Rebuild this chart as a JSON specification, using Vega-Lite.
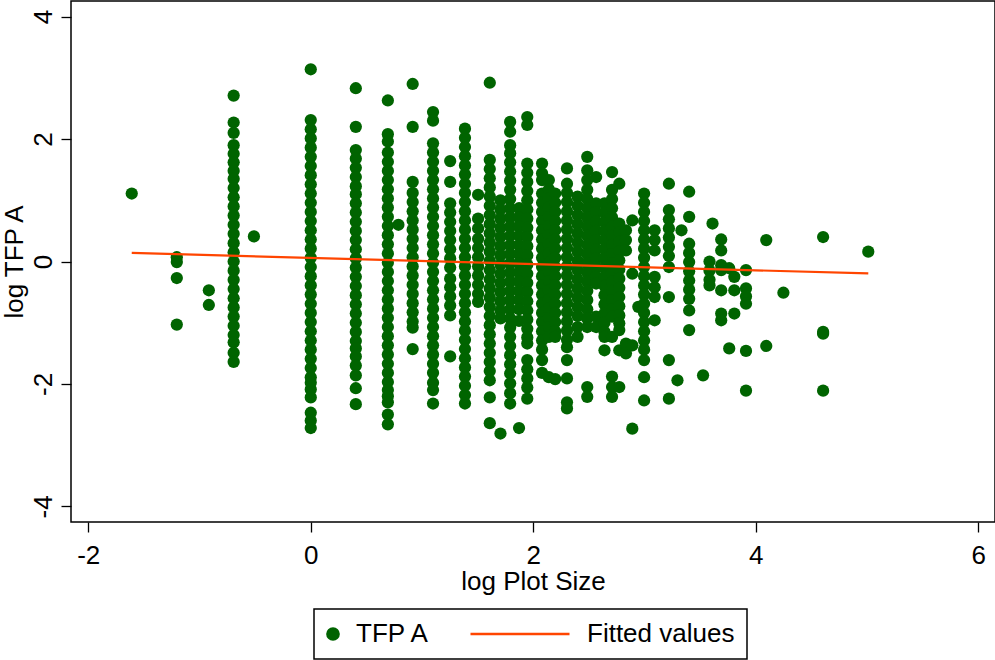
{
"$schema": "https://vega.github.io/schema/vega-lite/v6.json",
"width": 924, "height": 521,
"autosize": {"type": "none"},
"padding": {"left": 71, "top": 1, "right": 0, "bottom": 138},
"background": "white",
"config": {
  "font": "Liberation Sans",
  "view": {"stroke": "#000", "strokeWidth": 1.5},
  "axis": {"grid": false, "domain": false, "tickColor": "#000", "tickWidth": 1.3, "tickSize": 10, "labelFontSize": 26, "titleFontSize": 26, "labelColor": "#000", "titleColor": "#000", "titleFontWeight": "normal", "labelFont": "Liberation Sans", "titleFont": "Liberation Sans", "labelFlush": false, "labelOverlap": false, "labelExpr": "'' + datum.value"}
},
"datasets": {
"pts": [
{"x":-1.609,"y":1.11},
{"x":-1.204,"y":0.07},{"x":-1.204,"y":-0.01},{"x":-1.204,"y":-0.27},{"x":-1.204,"y":-1.03},
{"x":-0.916,"y":-0.47},{"x":-0.916,"y":-0.71},
{"x":-0.693,"y":2.71},{"x":-0.693,"y":2.27},{"x":-0.693,"y":2.1},{"x":-0.693,"y":1.9},{"x":-0.693,"y":1.76},{"x":-0.693,"y":1.62},{"x":-0.693,"y":1.48},{"x":-0.693,"y":1.35},{"x":-0.693,"y":1.2},{"x":-0.693,"y":1.05},{"x":-0.693,"y":0.9},{"x":-0.693,"y":0.75},{"x":-0.693,"y":0.6},{"x":-0.693,"y":0.45},{"x":-0.693,"y":0.3},{"x":-0.693,"y":0.15},{"x":-0.693,"y":0},{"x":-0.693,"y":-0.15},{"x":-0.693,"y":-0.3},{"x":-0.693,"y":-0.45},{"x":-0.693,"y":-0.6},{"x":-0.693,"y":-0.75},{"x":-0.693,"y":-0.9},{"x":-0.693,"y":-1.05},{"x":-0.693,"y":-1.2},{"x":-0.693,"y":-1.32},{"x":-0.693,"y":-1.49},{"x":-0.693,"y":-1.64},
{"x":-0.511,"y":0.41},
{"x":0,"y":3.14},{"x":0,"y":2.31},{"x":0,"y":2.16},{"x":0,"y":2.01},{"x":0,"y":1.86},{"x":0,"y":1.71},{"x":0,"y":1.56},{"x":0,"y":1.41},{"x":0,"y":1.26},{"x":0,"y":1.11},{"x":0,"y":0.96},{"x":0,"y":0.81},{"x":0,"y":0.66},{"x":0,"y":0.51},{"x":0,"y":0.36},{"x":0,"y":0.21},{"x":0,"y":0.06},{"x":0,"y":-0.09},{"x":0,"y":-0.24},{"x":0,"y":-0.39},{"x":0,"y":-0.54},{"x":0,"y":-0.69},{"x":0,"y":-0.84},{"x":0,"y":-0.99},{"x":0,"y":-1.14},{"x":0,"y":-1.29},{"x":0,"y":-1.44},{"x":0,"y":-1.59},{"x":0,"y":-1.74},{"x":0,"y":-1.89},{"x":0,"y":-1.98},{"x":0,"y":-2.09},{"x":0,"y":-2.22},{"x":0,"y":-2.47},{"x":0,"y":-2.6},{"x":0,"y":-2.72},
{"x":0.405,"y":2.83},{"x":0.405,"y":2.2},{"x":0.405,"y":1.82},{"x":0.405,"y":1.68},{"x":0.405,"y":1.53},{"x":0.405,"y":1.38},{"x":0.405,"y":1.23},{"x":0.405,"y":1.1},{"x":0.405,"y":0.95},{"x":0.405,"y":0.8},{"x":0.405,"y":0.65},{"x":0.405,"y":0.5},{"x":0.405,"y":0.35},{"x":0.405,"y":0.2},{"x":0.405,"y":0.05},{"x":0.405,"y":-0.1},{"x":0.405,"y":-0.25},{"x":0.405,"y":-0.4},{"x":0.405,"y":-0.55},{"x":0.405,"y":-0.7},{"x":0.405,"y":-0.85},{"x":0.405,"y":-1.0},{"x":0.405,"y":-1.15},{"x":0.405,"y":-1.3},{"x":0.405,"y":-1.42},{"x":0.405,"y":-1.55},{"x":0.405,"y":-1.7},{"x":0.405,"y":-1.86},{"x":0.405,"y":-2.07},{"x":0.405,"y":-2.33},
{"x":0.693,"y":2.63},{"x":0.693,"y":2.08},{"x":0.693,"y":1.96},{"x":0.693,"y":1.78},{"x":0.693,"y":1.63},{"x":0.693,"y":1.48},{"x":0.693,"y":1.33},{"x":0.693,"y":1.18},{"x":0.693,"y":1.03},{"x":0.693,"y":0.88},{"x":0.693,"y":0.73},{"x":0.693,"y":0.58},{"x":0.693,"y":0.43},{"x":0.693,"y":0.28},{"x":0.693,"y":0.13},{"x":0.693,"y":-0.02},{"x":0.693,"y":-0.17},{"x":0.693,"y":-0.32},{"x":0.693,"y":-0.47},{"x":0.693,"y":-0.62},{"x":0.693,"y":-0.77},{"x":0.693,"y":-0.92},{"x":0.693,"y":-1.07},{"x":0.693,"y":-1.22},{"x":0.693,"y":-1.37},{"x":0.693,"y":-1.52},{"x":0.693,"y":-1.67},{"x":0.693,"y":-1.82},{"x":0.693,"y":-1.97},{"x":0.693,"y":-2.1},{"x":0.693,"y":-2.2},{"x":0.693,"y":-2.3},{"x":0.693,"y":-2.5},{"x":0.693,"y":-2.66},
{"x":0.788,"y":0.6},
{"x":0.916,"y":2.9},{"x":0.916,"y":2.2},{"x":0.916,"y":1.3},{"x":0.916,"y":1.12},{"x":0.916,"y":0.97},{"x":0.916,"y":0.82},{"x":0.916,"y":0.67},{"x":0.916,"y":0.52},{"x":0.916,"y":0.37},{"x":0.916,"y":0.22},{"x":0.916,"y":0.07},{"x":0.916,"y":-0.08},{"x":0.916,"y":-0.23},{"x":0.916,"y":-0.38},{"x":0.916,"y":-0.53},{"x":0.916,"y":-0.68},{"x":0.916,"y":-0.83},{"x":0.916,"y":-0.98},{"x":0.916,"y":-1.08},{"x":0.916,"y":-1.43},
{"x":1.099,"y":2.44},{"x":1.099,"y":2.3},{"x":1.099,"y":1.93},{"x":1.099,"y":1.78},{"x":1.099,"y":1.63},{"x":1.099,"y":1.48},{"x":1.099,"y":1.33},{"x":1.099,"y":1.18},{"x":1.099,"y":1.03},{"x":1.099,"y":0.88},{"x":1.099,"y":0.73},{"x":1.099,"y":0.58},{"x":1.099,"y":0.43},{"x":1.099,"y":0.28},{"x":1.099,"y":0.13},{"x":1.099,"y":-0.02},{"x":1.099,"y":-0.17},{"x":1.099,"y":-0.32},{"x":1.099,"y":-0.47},{"x":1.099,"y":-0.62},{"x":1.099,"y":-0.77},{"x":1.099,"y":-0.92},{"x":1.099,"y":-1.07},{"x":1.099,"y":-1.22},{"x":1.099,"y":-1.37},{"x":1.099,"y":-1.52},{"x":1.099,"y":-1.67},{"x":1.099,"y":-1.82},{"x":1.099,"y":-1.98},{"x":1.099,"y":-2.1},{"x":1.099,"y":-2.32},
{"x":1.253,"y":1.64},{"x":1.253,"y":1.3},{"x":1.253,"y":0.95},{"x":1.253,"y":0.8},{"x":1.253,"y":0.65},{"x":1.253,"y":0.5},{"x":1.253,"y":0.35},{"x":1.253,"y":0.2},{"x":1.253,"y":0.05},{"x":1.253,"y":-0.1},{"x":1.253,"y":-0.28},{"x":1.253,"y":-0.42},{"x":1.253,"y":-0.57},{"x":1.253,"y":-0.72},{"x":1.253,"y":-0.88},{"x":1.253,"y":-1.55},
{"x":1.386,"y":2.17},{"x":1.386,"y":2.02},{"x":1.386,"y":1.87},{"x":1.386,"y":1.72},{"x":1.386,"y":1.57},{"x":1.386,"y":1.42},{"x":1.386,"y":1.27},{"x":1.386,"y":1.12},{"x":1.386,"y":0.97},{"x":1.386,"y":0.82},{"x":1.386,"y":0.67},{"x":1.386,"y":0.52},{"x":1.386,"y":0.37},{"x":1.386,"y":0.22},{"x":1.386,"y":0.07},{"x":1.386,"y":-0.08},{"x":1.386,"y":-0.23},{"x":1.386,"y":-0.38},{"x":1.386,"y":-0.53},{"x":1.386,"y":-0.68},{"x":1.386,"y":-0.83},{"x":1.386,"y":-0.98},{"x":1.386,"y":-1.13},{"x":1.386,"y":-1.28},{"x":1.386,"y":-1.43},{"x":1.386,"y":-1.58},{"x":1.386,"y":-1.73},{"x":1.386,"y":-1.88},{"x":1.386,"y":-2.03},{"x":1.386,"y":-2.18},{"x":1.386,"y":-2.32},
{"x":1.504,"y":1.09},{"x":1.504,"y":0.7},{"x":1.504,"y":0.54},{"x":1.504,"y":0.37},{"x":1.504,"y":0.22},{"x":1.504,"y":0.07},{"x":1.504,"y":-0.08},{"x":1.504,"y":-0.23},{"x":1.504,"y":-0.38},{"x":1.504,"y":-0.53},{"x":1.504,"y":-0.66},
{"x":1.609,"y":2.92},{"x":1.609,"y":1.66},{"x":1.609,"y":1.51},{"x":1.609,"y":1.36},{"x":1.609,"y":1.21},{"x":1.609,"y":1.06},{"x":1.609,"y":0.91},{"x":1.609,"y":0.76},{"x":1.609,"y":0.61},{"x":1.609,"y":0.46},{"x":1.609,"y":0.31},{"x":1.609,"y":0.16},{"x":1.609,"y":0.01},{"x":1.609,"y":-0.14},{"x":1.609,"y":-0.29},{"x":1.609,"y":-0.44},{"x":1.609,"y":-0.59},{"x":1.609,"y":-0.74},{"x":1.609,"y":-0.89},{"x":1.609,"y":-1.04},{"x":1.609,"y":-1.19},{"x":1.609,"y":-1.34},{"x":1.609,"y":-1.49},{"x":1.609,"y":-1.64},{"x":1.609,"y":-1.79},{"x":1.609,"y":-1.94},{"x":1.609,"y":-2.22},{"x":1.609,"y":-2.64},
{"x":1.705,"y":1.0},{"x":1.705,"y":0.85},{"x":1.705,"y":0.7},{"x":1.705,"y":0.55},{"x":1.705,"y":0.4},{"x":1.705,"y":0.25},{"x":1.705,"y":0.1},{"x":1.705,"y":-0.05},{"x":1.705,"y":-0.2},{"x":1.705,"y":-0.35},{"x":1.705,"y":-0.5},{"x":1.705,"y":-0.65},{"x":1.705,"y":-0.8},{"x":1.705,"y":-0.93},{"x":1.705,"y":-2.81},
{"x":1.792,"y":2.28},{"x":1.792,"y":2.12},{"x":1.792,"y":1.9},{"x":1.792,"y":1.77},{"x":1.792,"y":1.62},{"x":1.792,"y":1.47},{"x":1.792,"y":1.32},{"x":1.792,"y":1.17},{"x":1.792,"y":1.02},{"x":1.792,"y":0.87},{"x":1.792,"y":0.72},{"x":1.792,"y":0.57},{"x":1.792,"y":0.42},{"x":1.792,"y":0.27},{"x":1.792,"y":0.12},{"x":1.792,"y":-0.03},{"x":1.792,"y":-0.18},{"x":1.792,"y":-0.33},{"x":1.792,"y":-0.48},{"x":1.792,"y":-0.63},{"x":1.792,"y":-0.78},{"x":1.792,"y":-0.93},{"x":1.792,"y":-1.08},{"x":1.792,"y":-1.23},{"x":1.792,"y":-1.38},{"x":1.792,"y":-1.53},{"x":1.792,"y":-1.68},{"x":1.792,"y":-1.83},{"x":1.792,"y":-1.99},{"x":1.792,"y":-2.15},{"x":1.792,"y":-2.32},
{"x":1.872,"y":0.87},{"x":1.872,"y":0.72},{"x":1.872,"y":0.57},{"x":1.872,"y":0.42},{"x":1.872,"y":0.27},{"x":1.872,"y":0.12},{"x":1.872,"y":-0.03},{"x":1.872,"y":-0.18},{"x":1.872,"y":-0.33},{"x":1.872,"y":-0.48},{"x":1.872,"y":-0.63},{"x":1.872,"y":-0.78},{"x":1.872,"y":-0.97},{"x":1.872,"y":-2.72},
{"x":1.946,"y":2.36},{"x":1.946,"y":2.23},{"x":1.946,"y":1.6},{"x":1.946,"y":1.45},{"x":1.946,"y":1.3},{"x":1.946,"y":1.15},{"x":1.946,"y":1.0},{"x":1.946,"y":0.85},{"x":1.946,"y":0.7},{"x":1.946,"y":0.55},{"x":1.946,"y":0.4},{"x":1.946,"y":0.25},{"x":1.946,"y":0.1},{"x":1.946,"y":-0.05},{"x":1.946,"y":-0.2},{"x":1.946,"y":-0.35},{"x":1.946,"y":-0.5},{"x":1.946,"y":-0.65},{"x":1.946,"y":-0.8},{"x":1.946,"y":-0.95},{"x":1.946,"y":-1.1},{"x":1.946,"y":-1.24},{"x":1.946,"y":-1.34},{"x":1.946,"y":-1.61},{"x":1.946,"y":-1.76},{"x":1.946,"y":-1.91},{"x":1.946,"y":-2.06},{"x":1.946,"y":-2.24},
{"x":2.079,"y":1.6},{"x":2.079,"y":1.44},{"x":2.079,"y":1.33},{"x":2.079,"y":1.11},{"x":2.079,"y":0.96},{"x":2.079,"y":0.81},{"x":2.079,"y":0.66},{"x":2.079,"y":0.51},{"x":2.079,"y":0.36},{"x":2.079,"y":0.21},{"x":2.079,"y":0.06},{"x":2.079,"y":-0.09},{"x":2.079,"y":-0.24},{"x":2.079,"y":-0.39},{"x":2.079,"y":-0.54},{"x":2.079,"y":-0.69},{"x":2.079,"y":-0.84},{"x":2.079,"y":-0.99},{"x":2.079,"y":-1.14},{"x":2.079,"y":-1.29},{"x":2.079,"y":-1.44},{"x":2.079,"y":-1.61},{"x":2.079,"y":-1.82},
{"x":2.14,"y":1.33},{"x":2.14,"y":1.18},{"x":2.14,"y":1.03},{"x":2.14,"y":0.88},{"x":2.14,"y":0.73},{"x":2.14,"y":0.58},{"x":2.14,"y":0.43},{"x":2.14,"y":0.28},{"x":2.14,"y":0.13},{"x":2.14,"y":-0.02},{"x":2.14,"y":-0.17},{"x":2.14,"y":-0.32},{"x":2.14,"y":-0.47},{"x":2.14,"y":-0.62},{"x":2.14,"y":-0.77},{"x":2.14,"y":-0.92},{"x":2.14,"y":-1.07},{"x":2.14,"y":-1.23},{"x":2.14,"y":-1.89},
{"x":2.197,"y":1.11},{"x":2.197,"y":0.96},{"x":2.197,"y":0.81},{"x":2.197,"y":0.66},{"x":2.197,"y":0.51},{"x":2.197,"y":0.36},{"x":2.197,"y":0.21},{"x":2.197,"y":0.06},{"x":2.197,"y":-0.09},{"x":2.197,"y":-0.24},{"x":2.197,"y":-0.39},{"x":2.197,"y":-0.54},{"x":2.197,"y":-0.69},{"x":2.197,"y":-0.84},{"x":2.197,"y":-0.99},{"x":2.197,"y":-1.14},{"x":2.197,"y":-1.23},{"x":2.197,"y":-1.92},
{"x":2.303,"y":1.52},{"x":2.303,"y":1.27},{"x":2.303,"y":1.12},{"x":2.303,"y":0.97},{"x":2.303,"y":0.82},{"x":2.303,"y":0.67},{"x":2.303,"y":0.52},{"x":2.303,"y":0.37},{"x":2.303,"y":0.22},{"x":2.303,"y":0.07},{"x":2.303,"y":-0.08},{"x":2.303,"y":-0.23},{"x":2.303,"y":-0.38},{"x":2.303,"y":-0.53},{"x":2.303,"y":-0.68},{"x":2.303,"y":-0.83},{"x":2.303,"y":-0.98},{"x":2.303,"y":-1.13},{"x":2.303,"y":-1.28},{"x":2.303,"y":-1.4},{"x":2.303,"y":-1.61},{"x":2.303,"y":-1.91},{"x":2.303,"y":-2.3},{"x":2.303,"y":-2.4},
{"x":2.398,"y":1.06},{"x":2.398,"y":0.91},{"x":2.398,"y":0.76},{"x":2.398,"y":0.61},{"x":2.398,"y":0.46},{"x":2.398,"y":0.31},{"x":2.398,"y":0.16},{"x":2.398,"y":0.01},{"x":2.398,"y":-0.14},{"x":2.398,"y":-0.29},{"x":2.398,"y":-0.44},{"x":2.398,"y":-0.59},{"x":2.398,"y":-0.74},{"x":2.398,"y":-0.89},{"x":2.398,"y":-1.07},{"x":2.398,"y":-1.23},
{"x":2.485,"y":1.71},{"x":2.485,"y":1.49},{"x":2.485,"y":1.33},{"x":2.485,"y":1.17},{"x":2.485,"y":1.02},{"x":2.485,"y":0.87},{"x":2.485,"y":0.72},{"x":2.485,"y":0.57},{"x":2.485,"y":0.42},{"x":2.485,"y":0.27},{"x":2.485,"y":0.12},{"x":2.485,"y":-0.03},{"x":2.485,"y":-0.18},{"x":2.485,"y":-0.33},{"x":2.485,"y":-0.48},{"x":2.485,"y":-0.63},{"x":2.485,"y":-0.78},{"x":2.485,"y":-0.93},{"x":2.485,"y":-1.07},{"x":2.485,"y":-2.05},{"x":2.485,"y":-2.21},
{"x":2.565,"y":1.38},{"x":2.565,"y":0.95},{"x":2.565,"y":0.8},{"x":2.565,"y":0.65},{"x":2.565,"y":0.5},{"x":2.565,"y":0.35},{"x":2.565,"y":0.2},{"x":2.565,"y":0.05},{"x":2.565,"y":-0.1},{"x":2.565,"y":-0.25},{"x":2.565,"y":-0.36},{"x":2.565,"y":-0.9},{"x":2.565,"y":-1.07},
{"x":2.64,"y":0.95},{"x":2.64,"y":0.8},{"x":2.64,"y":0.65},{"x":2.64,"y":0.5},{"x":2.64,"y":0.35},{"x":2.64,"y":0.2},{"x":2.64,"y":0.05},{"x":2.64,"y":-0.1},{"x":2.64,"y":-0.25},{"x":2.64,"y":-0.4},{"x":2.64,"y":-0.55},{"x":2.64,"y":-0.7},{"x":2.64,"y":-0.85},{"x":2.64,"y":-1.0},{"x":2.64,"y":-1.15},{"x":2.64,"y":-1.23},{"x":2.64,"y":-1.45},
{"x":2.708,"y":1.46},{"x":2.708,"y":1.17},{"x":2.708,"y":1.02},{"x":2.708,"y":0.87},{"x":2.708,"y":0.72},{"x":2.708,"y":0.57},{"x":2.708,"y":0.42},{"x":2.708,"y":0.27},{"x":2.708,"y":0.12},{"x":2.708,"y":-0.03},{"x":2.708,"y":-0.18},{"x":2.708,"y":-0.33},{"x":2.708,"y":-0.48},{"x":2.708,"y":-0.63},{"x":2.708,"y":-0.78},{"x":2.708,"y":-0.9},{"x":2.708,"y":-1.23},{"x":2.708,"y":-1.88},{"x":2.708,"y":-2.05},{"x":2.708,"y":-2.21},
{"x":2.773,"y":1.27},{"x":2.773,"y":0.62},{"x":2.773,"y":0.47},{"x":2.773,"y":0.32},{"x":2.773,"y":0.17},{"x":2.773,"y":0.02},{"x":2.773,"y":-0.13},{"x":2.773,"y":-0.28},{"x":2.773,"y":-0.43},{"x":2.773,"y":-0.58},{"x":2.773,"y":-0.73},{"x":2.773,"y":-0.88},{"x":2.773,"y":-1.01},{"x":2.773,"y":-1.12},{"x":2.773,"y":-1.45},{"x":2.773,"y":-2.05},
{"x":2.833,"y":0.51},{"x":2.833,"y":0.35},{"x":2.833,"y":0.18},{"x":2.833,"y":-1.34},{"x":2.833,"y":-1.5},
{"x":2.89,"y":0.67},{"x":2.89,"y":-0.2},{"x":2.89,"y":-1.37},{"x":2.89,"y":-2.73},
{"x":2.944,"y":-0.74},
{"x":2.996,"y":1.11},{"x":2.996,"y":0.96},{"x":2.996,"y":0.81},{"x":2.996,"y":0.66},{"x":2.996,"y":0.51},{"x":2.996,"y":0.36},{"x":2.996,"y":0.21},{"x":2.996,"y":0.06},{"x":2.996,"y":-0.09},{"x":2.996,"y":-0.24},{"x":2.996,"y":-0.39},{"x":2.996,"y":-0.54},{"x":2.996,"y":-0.69},{"x":2.996,"y":-0.84},{"x":2.996,"y":-0.99},{"x":2.996,"y":-1.14},{"x":2.996,"y":-1.29},{"x":2.996,"y":-1.44},{"x":2.996,"y":-1.61},{"x":2.996,"y":-1.89},{"x":2.996,"y":-2.27},
{"x":3.091,"y":0.51},{"x":3.091,"y":0.35},{"x":3.091,"y":0.18},{"x":3.091,"y":-0.25},{"x":3.091,"y":-0.42},{"x":3.091,"y":-0.58},{"x":3.091,"y":-0.96},
{"x":3.219,"y":1.27},{"x":3.219,"y":0.84},{"x":3.219,"y":0.69},{"x":3.219,"y":0.54},{"x":3.219,"y":0.39},{"x":3.219,"y":0.24},{"x":3.219,"y":0.09},{"x":3.219,"y":-0.09},{"x":3.219,"y":-0.58},{"x":3.219,"y":-1.61},{"x":3.219,"y":-2.24},
{"x":3.296,"y":-1.94},
{"x":3.332,"y":0.51},
{"x":3.401,"y":1.14},{"x":3.401,"y":0.73},{"x":3.401,"y":0.29},{"x":3.401,"y":0.14},{"x":3.401,"y":-0.01},{"x":3.401,"y":-0.16},{"x":3.401,"y":-0.31},{"x":3.401,"y":-0.46},{"x":3.401,"y":-0.61},{"x":3.401,"y":-0.8},{"x":3.401,"y":-1.12},
{"x":3.526,"y":-1.86},
{"x":3.584,"y":0.0},{"x":3.584,"y":-0.15},{"x":3.584,"y":-0.3},{"x":3.584,"y":-0.39},
{"x":3.611,"y":0.62},
{"x":3.689,"y":0.36},{"x":3.689,"y":0.18},{"x":3.689,"y":-0.06},{"x":3.689,"y":-0.14},{"x":3.689,"y":-0.47},{"x":3.689,"y":-0.85},{"x":3.689,"y":-0.96},
{"x":3.761,"y":-0.11},{"x":3.761,"y":-1.42},
{"x":3.807,"y":-0.25},{"x":3.807,"y":-0.47},{"x":3.807,"y":-0.85},
{"x":3.912,"y":-0.14},{"x":3.912,"y":-0.44},{"x":3.912,"y":-0.57},{"x":3.912,"y":-0.69},{"x":3.912,"y":-1.46},{"x":3.912,"y":-2.11},
{"x":4.094,"y":0.35},{"x":4.094,"y":-1.38},
{"x":4.248,"y":-0.51},
{"x":4.605,"y":0.4},{"x":4.605,"y":-1.15},{"x":4.605,"y":-1.18},{"x":4.605,"y":-2.11},
{"x":5.011,"y":0.16}
],
"fit": [{"x":-1.609,"y":0.14},{"x":5.011,"y":-0.195}]
},
"layer": [
{
  "data": {"name": "pts"},
  "mark": {"type": "point", "filled": true, "size": 150, "opacity": 1, "strokeWidth": 0},
  "encoding": {
    "x": {"field": "x", "type": "quantitative", "scale": {"domain": [-2.155, 6.15], "nice": false, "zero": false},
          "axis": {"values": [-2,0,2,4,6], "title": "log Plot Size", "labelPadding": 10, "titlePadding": 0}},
    "y": {"field": "y", "type": "quantitative", "scale": {"domain": [-4.255, 4.255], "nice": false, "zero": false},
          "axis": {"values": [-4,-2,0,2,4], "title": "log TFP A", "labelAngle": -90, "labelAlign": "center", "labelBaseline": "alphabetic", "labelPadding": 10, "titlePadding": 3}},
    "color": {"datum": "TFP A", "type": "nominal",
      "scale": {"domain": ["TFP A", "Fitted values"], "range": ["#006400", "#ff4500"]},
      "legend": {
        "orient": "none", "legendX": 243, "legendY": 608, "direction": "horizontal", "columns": 2, "columnPadding": 35,
        "padding": 12, "strokeColor": "#000", "fillColor": "white", "title": null, "symbolSize": 130,
        "labelFontSize": 26, "labelFont": "Liberation Sans", "labelColor": "#000", "labelOffset": 16,
        "encoding": {
          "legend": {"strokeWidth": {"value": 1.5}},
          "symbols": {
            "shape": {"value": {"expr": "datum.value === 'Fitted values' ? 'stroke' : 'circle'"}},
            "size": {"value": {"expr": "datum.value === 'Fitted values' ? 9801 : 130"}},
            "x": {"value": {"expr": "datum.value === 'Fitted values' ? 50 : 7"}},
            "fill": {"value": {"expr": "datum.value === 'Fitted values' ? 'transparent' : '#006400'"}},
            "stroke": {"value": {"expr": "datum.value === 'Fitted values' ? '#ff4500' : 'transparent'"}},
            "strokeWidth": {"value": 2.3},
            "opacity": {"value": 1}
          },
          "labels": {"x": {"value": {"expr": "datum.value === 'Fitted values' ? 117 : 30"}}}
        }
      }
    }
  }
},
{
  "data": {"name": "fit"},
  "mark": {"type": "line", "strokeWidth": 2.2},
  "encoding": {
    "x": {"field": "x", "type": "quantitative"},
    "y": {"field": "y", "type": "quantitative"},
    "color": {"datum": "Fitted values", "type": "nominal"}
  }
}
]
}
